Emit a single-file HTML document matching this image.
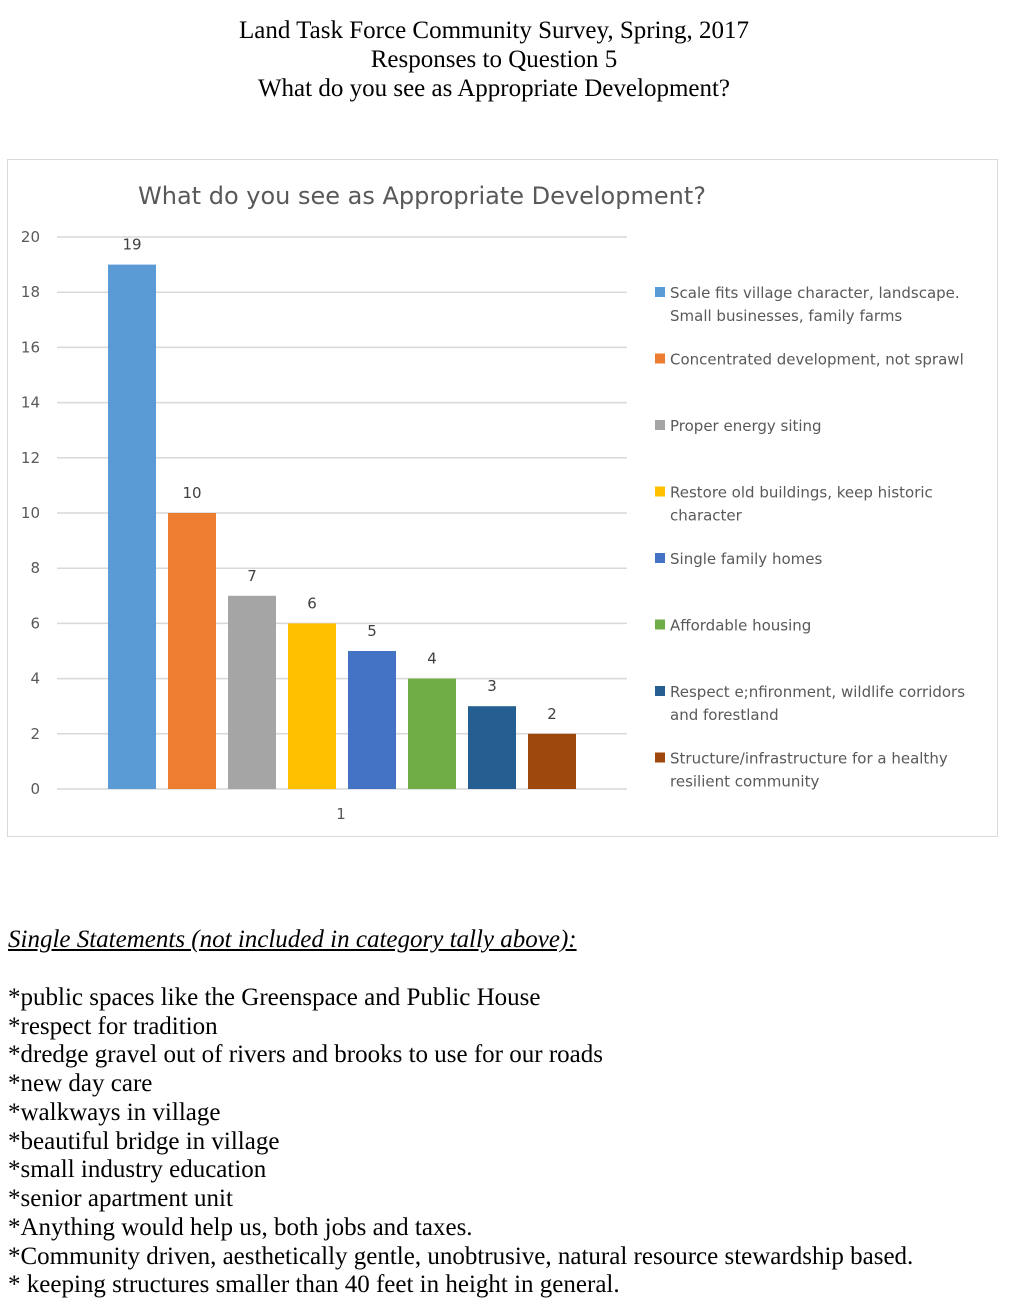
<!DOCTYPE html>
<html><head><meta charset="utf-8"><style>
body{margin:0;width:1017px;height:1309px;background:#fff;position:relative;overflow:hidden;font-family:"Liberation Serif",serif;}
.hdr{position:absolute;left:0;width:988px;text-align:center;font-size:25px;color:#000;}
.ln{position:absolute;left:8px;font-size:25px;color:#000;white-space:nowrap;}
svg text{font-family:"DejaVu Sans","Liberation Sans",sans-serif;}
</style></head><body>
<div class="hdr" style="top:17px">Land Task Force Community Survey, Spring, 2017</div>
<div class="hdr" style="top:46px">Responses to Question 5</div>
<div class="hdr" style="top:75px">What do you see as Appropriate Development?</div>

<svg id="chart" width="1017" height="850" style="position:absolute;left:0;top:0">
<rect x="7.5" y="159.5" width="990" height="677" fill="#fff" stroke="#d9d9d9"/>
<text x="422" y="204" text-anchor="middle" font-size="24" fill="#595959">What do you see as Appropriate Development?</text>
<g id="grid"></g><g id="bars"></g><g id="legend"></g>
<text x="341" y="819" text-anchor="middle" font-size="15" fill="#595959">1</text>
</svg>

<div class="ln" style="top:926px;font-style:italic;text-decoration:underline">Single Statements (not included in category tally above):</div>
<div class="ln" style="top:984px">*public spaces like the Greenspace and Public House</div>
<div class="ln" style="top:1013px">*respect for tradition</div>
<div class="ln" style="top:1041px">*dredge gravel out of rivers and brooks to use for our roads</div>
<div class="ln" style="top:1070px">*new day care</div>
<div class="ln" style="top:1099px">*walkways in village</div>
<div class="ln" style="top:1128px">*beautiful bridge in village</div>
<div class="ln" style="top:1156px">*small industry education</div>
<div class="ln" style="top:1185px">*senior apartment unit</div>
<div class="ln" style="top:1214px">*Anything would help us, both jobs and taxes.</div>
<div class="ln" style="top:1243px">*Community driven, aesthetically gentle, unobtrusive, natural resource stewardship based.</div>
<div class="ln" style="top:1271px">* keeping structures smaller than 40 feet in height in general.</div>

<script>
const categories=["Scale fits village character, landscape.|Small businesses, family farms","Concentrated development, not sprawl","Proper energy siting","Restore old buildings, keep historic|character","Single family homes","Affordable housing","Respect e;nfironment, wildlife corridors|and forestland","Structure/infrastructure for a healthy|resilient community"];
const values=[19,10,7,6,5,4,3,2];
const colors=["#5b9bd5","#ed7d31","#a5a5a5","#ffc000","#4472c4","#70ad47","#255e91","#9e480e"];
const yTicks=[0,2,4,6,8,10,12,14,16,18,20];
const NS="http://www.w3.org/2000/svg";
const y0=789,yTop=237,yMax=20;
const y=v=>y0-(v/yMax)*(y0-yTop);
const x=i=>108+i*60;
function mk(t,a,p){const e=document.createElementNS(NS,t);for(const k in a)e.setAttribute(k,a[k]);p.appendChild(e);return e;}
const grid=document.getElementById('grid');
yTicks.forEach(t=>{
 const l=mk('line',{x1:57,x2:627,y1:y(t),y2:y(t),stroke:'#d9d9d9','stroke-width':1.5},grid);
 
 
 const tx=mk('text',{x:40,y:y(t)+5,'text-anchor':'end','font-size':15,fill:'#595959'},grid);
 tx.textContent=t;
 
 
});
const bars=document.getElementById('bars');
values.forEach((v,i)=>{
 const r=mk('rect',{x:x(i),y:y(v),width:48,height:y0-y(v),fill:colors[i]},bars);
 
 
 const t=mk('text',{x:x(i)+24,y:y(v)-15,'text-anchor':'middle','font-size':15,fill:'#404040'},bars);
 t.textContent=v;
 
 
});
const lg=document.getElementById('legend');
categories.forEach((c,i)=>{
 const ly=293+i*66.5;
 const g=mk('g',{},lg);
 
 
 mk('rect',{x:655,y:ly-6,width:10,height:10,fill:colors[i]},g);
 c.split('|').forEach((s,j)=>{const t=mk('text',{x:670,y:ly+5+j*23,'font-size':15,fill:'#595959'},g);t.textContent=s;});
});
</script>
</body></html>
